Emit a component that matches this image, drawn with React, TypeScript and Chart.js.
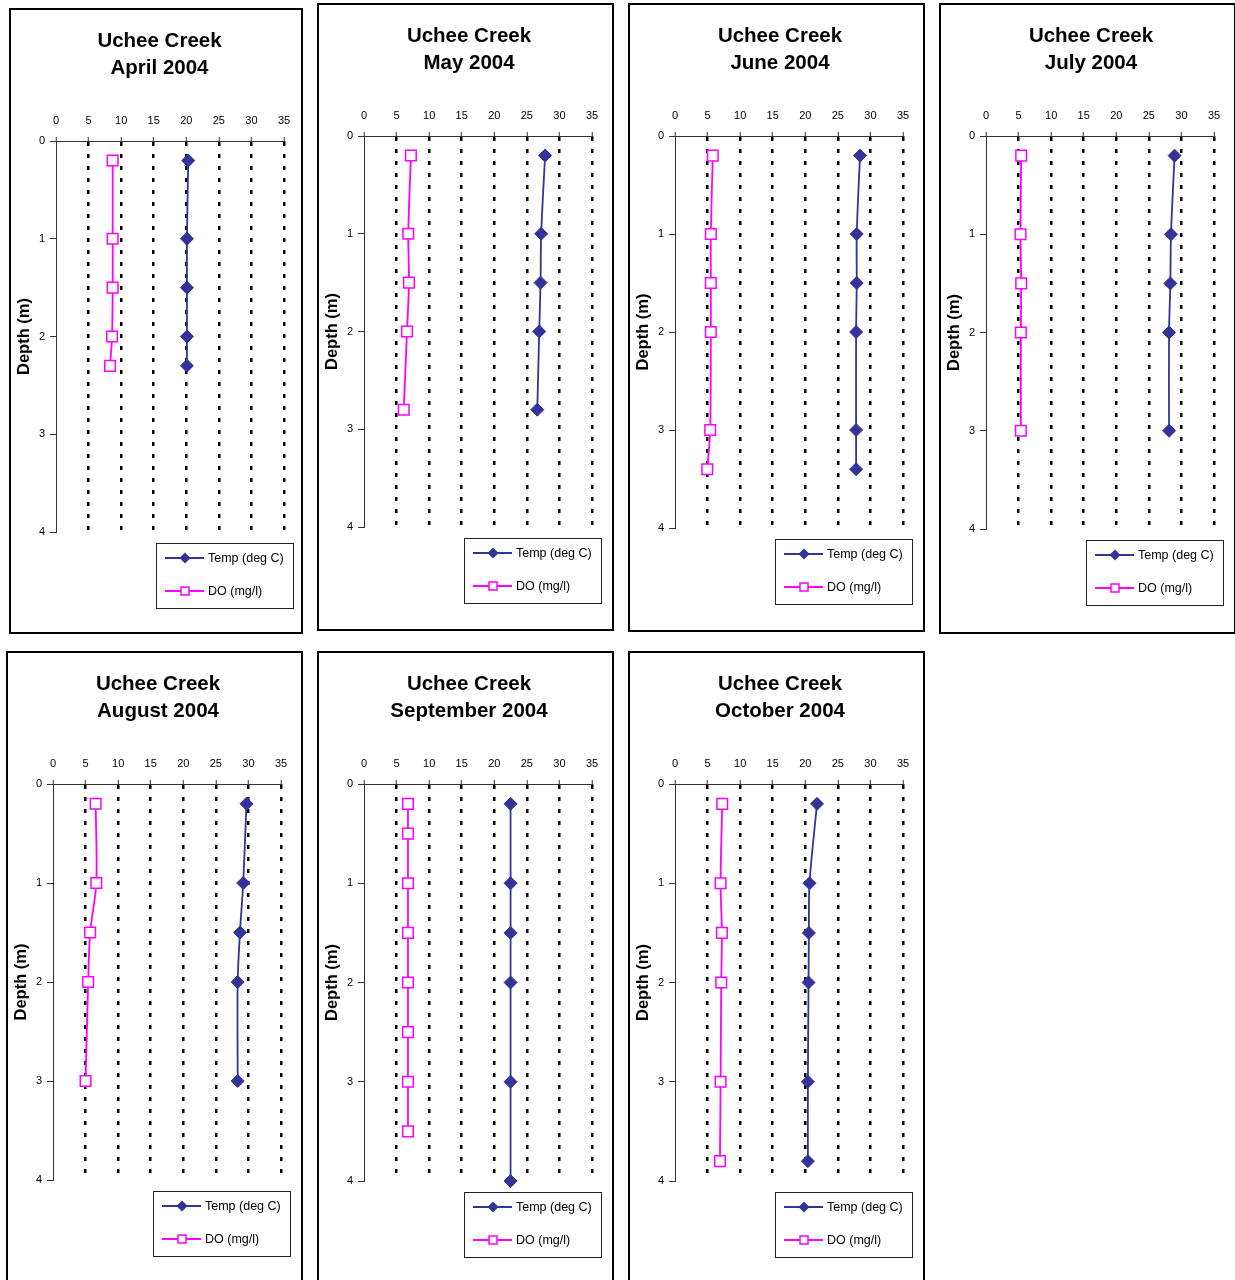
import React, { useEffect, useRef } from "react";
import { Chart, registerables } from "chart.js";

Chart.register(...registerables);
Chart.defaults.font.family = '"Liberation Sans", Arial, sans-serif';
Chart.defaults.color = "#000";

// ---- Data ----
const siteName = "Uchee Creek";
const months = ["April 2004", "May 2004", "June 2004", "July 2004", "August 2004", "September 2004", "October 2004"];
const xTicksMax = 35;
const depthMax = 4;

const aprDepth = [0.2, 1, 1.5, 2, 2.3];
const aprTemp = [20.3, 20.1, 20.1, 20.1, 20.1];
const aprDO = [8.7, 8.7, 8.7, 8.6, 8.3];

const mayDepth = [0.2, 1, 1.5, 2, 2.8];
const mayTemp = [27.8, 27.2, 27.1, 26.9, 26.6];
const mayDO = [7.2, 6.8, 6.9, 6.6, 6.1];

const junDepth = [0.2, 1, 1.5, 2, 3, 3.4];
const junTemp = [28.4, 27.9, 27.9, 27.8, 27.8, 27.8];
const junDO = [5.8, 5.5, 5.5, 5.5, 5.4, 4.95];

const julDepth = [0.2, 1, 1.5, 2, 3];
const julTemp = [28.95, 28.4, 28.3, 28.1, 28.1];
const julDO = [5.4, 5.3, 5.4, 5.35, 5.35];

const augDepth = [0.2, 1, 1.5, 2, 3];
const augTemp = [29.7, 29.2, 28.7, 28.35, 28.35];
const augDO = [6.55, 6.65, 5.7, 5.4, 5.0];

const sepTempDepth = [0.2, 1, 1.5, 2, 3, 4];
const sepTemp = [22.5, 22.5, 22.5, 22.5, 22.5, 22.5];
const sepDODepth = [0.2, 0.5, 1, 1.5, 2, 2.5, 3, 3.5];
const sepDO = [6.75, 6.75, 6.75, 6.75, 6.75, 6.75, 6.75, 6.75];

const octDepth = [0.2, 1, 1.5, 2, 3, 3.8];
const octTemp = [21.8, 20.65, 20.55, 20.5, 20.4, 20.4];
const octDO = [7.25, 7.0, 7.2, 7.1, 7.0, 6.9];

const tempDepths = [aprDepth, mayDepth, junDepth, julDepth, augDepth, sepTempDepth, octDepth];
const tempValues = [aprTemp, mayTemp, junTemp, julTemp, augTemp, sepTemp, octTemp];
const doDepths = [aprDepth, mayDepth, junDepth, julDepth, augDepth, sepDODepth, octDepth];
const doValues = [aprDO, mayDO, junDO, julDO, augDO, sepDO, octDO];

// ---- Layout ----
const BORDER = 2;
const panelBoxes = [
  { x: 9, y: 8, w: 294, h: 626, bottomRel: 524 },
  { x: 317, y: 3, w: 297, h: 628, bottomRel: 524 },
  { x: 628, y: 3, w: 297, h: 629, bottomRel: 525 },
  { x: 939, y: 3, w: 297, h: 631, bottomRel: 526 },
  { x: 6, y: 651, w: 297, h: 640, bottomRel: 529 },
  { x: 317, y: 651, w: 297, h: 640, bottomRel: 530 },
  { x: 628, y: 651, w: 297, h: 640, bottomRel: 530 },
];

const TEMP_COLOR = "#333399";
const DO_COLOR = "#FF00FF";

const legendPlugin = {
  id: "boxLegend",
  afterDraw(chart: any) {
    const { ctx, chartArea } = chart;
    const left = chartArea.right - 128;
    const top = chartArea.bottom + 11;
    const w = 137;
    const h = 65;
    ctx.save();
    ctx.fillStyle = "#fff";
    ctx.fillRect(left, top, w, h);
    ctx.strokeStyle = "#222";
    ctx.lineWidth = 1;
    ctx.strokeRect(left + 0.5, top + 0.5, w, h);
    chart.data.datasets.forEach((ds: any, i: number) => {
      const y = top + 15 + i * 33;
      ctx.strokeStyle = ds.borderColor;
      ctx.lineWidth = 1.8;
      ctx.beginPath();
      ctx.moveTo(left + 9, y);
      ctx.lineTo(left + 48, y);
      ctx.stroke();
      const mx = left + 29;
      if (ds.pointStyle === "rectRot") {
        ctx.fillStyle = ds.borderColor;
        ctx.beginPath();
        ctx.moveTo(mx - 5.5, y);
        ctx.lineTo(mx, y - 5.5);
        ctx.lineTo(mx + 5.5, y);
        ctx.lineTo(mx, y + 5.5);
        ctx.closePath();
        ctx.fill();
      } else {
        ctx.fillStyle = "#fff";
        ctx.fillRect(mx - 4, y - 4, 8, 8);
        ctx.strokeStyle = ds.borderColor;
        ctx.lineWidth = 1.5;
        ctx.strokeRect(mx - 4, y - 4, 8, 8);
      }
      ctx.fillStyle = "#000";
      ctx.font = '12.5px "Liberation Sans", Arial, sans-serif';
      ctx.textAlign = "left";
      ctx.textBaseline = "middle";
      ctx.fillText(ds.label, left + 52, y + 0.5);
    });
    ctx.restore();
  },
};

function Panel({ index }: { index: number }) {
  const ref = useRef<HTMLCanvasElement>(null);
  const box = panelBoxes[index];
  const W = box.w - 2 * BORDER;
  const H = box.h - 2 * BORDER;
  const chartTop = 133 - BORDER;
  const chartBottom = box.bottomRel - BORDER;
  const chartLeft = 47 - BORDER;
  const chartRight = 275 - BORDER;

  useEffect(() => {
    if (!ref.current) return;
    const tempData = tempDepths[index].map((d, i) => ({ x: tempValues[index][i], y: d }));
    const doData = doDepths[index].map((d, i) => ({ x: doValues[index][i], y: d }));
    const padLeft = 7;
    const xAxisH = 26;
    const titlePadTop = 17.5;
    const titleLH = 27;
    const titlePadBottom = chartTop - titlePadTop - 2 * titleLH - xAxisH;
    const chart = new Chart(ref.current, {
      type: "scatter",
      data: {
        datasets: [
          {
            label: "Temp (deg C)",
            data: tempData,
            borderColor: TEMP_COLOR,
            backgroundColor: TEMP_COLOR,
            pointStyle: "rectRot",
            pointRadius: 6.5,
            pointBorderWidth: 1,
            borderWidth: 1.8,
            showLine: true,
            tension: 0.3,
            clip: false,
          } as any,
          {
            label: "DO (mg/l)",
            data: doData,
            borderColor: DO_COLOR,
            backgroundColor: "#FFFFFF",
            pointStyle: "rect",
            pointRadius: 7.5,
            pointBorderWidth: 1.5,
            borderWidth: 1.8,
            showLine: true,
            tension: 0.3,
            clip: false,
          } as any,
        ],
      },
      options: {
        responsive: false,
        animation: false,
        events: [],
        layout: {
          padding: { left: padLeft, right: 0, top: 0, bottom: H - chartBottom },
        },
        plugins: {
          legend: { display: false },
          tooltip: { enabled: false },
          title: {
            display: true,
            text: [siteName, months[index]],
            color: "#000",
            font: { size: 20.5, weight: "bold", lineHeight: "27px" } as any,
            padding: { top: titlePadTop, bottom: titlePadBottom },
          },
        },
        scales: {
          x: {
            type: "linear",
            position: "top",
            min: 0,
            max: xTicksMax,
            ticks: { stepSize: 5, font: { size: 11 }, color: "#000", padding: 9 },
            grid: {
              color: (c: any) => (c.tick && c.tick.value === 0 ? "rgba(0,0,0,0)" : "#000"),
              lineWidth: 2.5,
              drawTicks: true,
              tickLength: 4,
              tickColor: "#333",
              tickWidth: 1,
            },
            border: { display: true, color: "#333", width: 1, dash: [4, 8] },
            afterFit: (s: any) => {
              s.height = xAxisH;
            },
          },
          y: {
            type: "linear",
            position: "left",
            reverse: true,
            min: 0,
            max: depthMax,
            ticks: { stepSize: 1, font: { size: 11 }, color: "#000", padding: 5 },
            grid: { drawOnChartArea: false, drawTicks: true, tickLength: 6, tickColor: "#333" },
            border: { display: true, color: "#333", width: 1 },
            title: {
              display: true,
              text: "Depth (m)",
              color: "#000",
              font: { size: 16.5, weight: "bold", lineHeight: "12px" } as any,
              padding: 0,
            },
            afterFit: (s: any) => {
              s.width = chartLeft - padLeft;
            },
          },
          y2: {
            type: "linear",
            position: "right",
            display: true,
            grid: { display: false },
            ticks: { display: false },
            border: { display: false },
            afterFit: (s: any) => {
              s.width = W - chartRight;
            },
          },
        } as any,
      },
      plugins: [legendPlugin],
    });
    return () => chart.destroy();
  }, [index]);

  return (
    <div
      style={{
        position: "absolute",
        left: box.x,
        top: box.y,
        width: box.w,
        height: box.h,
        border: `${BORDER}px solid #000`,
        boxSizing: "border-box",
        background: "#fff",
      }}
    >
      <canvas ref={ref} width={W} height={H} style={{ display: "block", width: W, height: H }} />
    </div>
  );
}

export default function App() {
  return (
    <div
      style={{
        position: "fixed",
        left: 0,
        top: 0,
        width: 1235,
        height: 1280,
        overflow: "hidden",
        background: "#fff",
      }}
    >
      {months.map((m, i) => (
        <Panel key={m} index={i} />
      ))}
    </div>
  );
}
